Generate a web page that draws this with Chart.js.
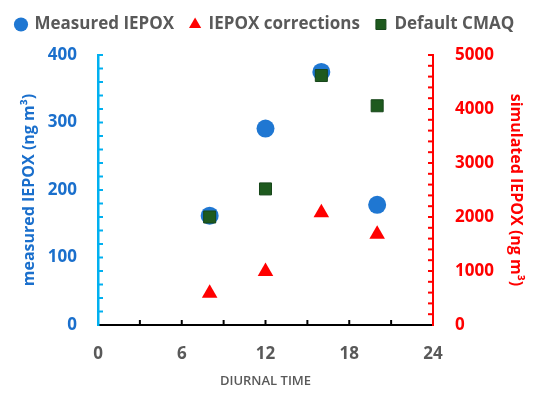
<!DOCTYPE html>
<html>
<head>
<meta charset="utf-8">
<script src="https://cdn.jsdelivr.net/npm/chart.js@4"></script>
<style>
  html, body { margin: 0; padding: 0; background: #fff; }
  #wrap { width: 550px; height: 402px; }
</style>
</head>
<body>
<div id="wrap"><canvas id="chart"></canvas></div>
<script>
// diurnal hours of the samples
const hours = [8, 12, 16, 20];
// left axis, ng m-3
const measuredIepox = [162, 291, 375, 178];
// right axis, ng m-3
const iepoxCorrections = [590, 990, 2080, 1680];
const defaultCmaq = [2000, 2520, 4620, 4060];

const xTicks = [0, 6, 12, 18, 24];
const leftTicks = [0, 100, 200, 300, 400];
const rightTicks = [0, 1000, 2000, 3000, 4000, 5000];

const GRAY = '#595959';
const FONT = "'Open Sans', sans-serif";

const toPoints = (vals) => vals.map((v, i) => ({ x: hours[i], y: v }));

// minor tick marks drawn inward from each axis line
const innerTicks = {
  id: 'innerTicks',
  afterDatasetsDraw(chart) {
    const { ctx, chartArea, scales } = chart;
    const len = 5;
    ctx.save();
    ctx.lineWidth = 2;

    ctx.strokeStyle = '#000';
    for (let v = 3; v < 24; v += 3) {
      const px = scales.x.getPixelForValue(v);
      ctx.beginPath();
      ctx.moveTo(px, chartArea.bottom);
      ctx.lineTo(px, chartArea.bottom - len);
      ctx.stroke();
    }

    ctx.strokeStyle = '#00B0F0';
    for (let v = 20; v <= 400; v += 20) {
      const py = scales.y.getPixelForValue(v);
      ctx.beginPath();
      ctx.moveTo(chartArea.left, py);
      ctx.lineTo(chartArea.left + len, py);
      ctx.stroke();
    }

    ctx.strokeStyle = '#FF0000';
    for (let v = 200; v <= 5000; v += 200) {
      const py = scales.y2.getPixelForValue(v);
      ctx.beginPath();
      ctx.moveTo(chartArea.right, py);
      ctx.lineTo(chartArea.right - len, py);
      ctx.stroke();
    }
    ctx.restore();
  }
};

// fixed legend band height
const legendBand = {
  id: 'legendBand',
  beforeInit(chart) {
    const fit = chart.legend.fit;
    chart.legend.fit = function () {
      fit.call(this);
      this.height = 55;
    };
  }
};

new Chart(document.getElementById('chart'), {
  type: 'scatter',
  data: {
    datasets: [
      {
        label: 'Measured IEPOX',
        data: toPoints(measuredIepox),
        yAxisID: 'y',
        order: 2,
        pointStyle: 'circle',
        pointRadius: 9,
        backgroundColor: '#1F77D2',
        borderColor: '#1F77D2',
        borderWidth: 0
      },
      {
        label: 'IEPOX corrections',
        data: toPoints(iepoxCorrections),
        yAxisID: 'y2',
        order: 1,
        pointStyle: 'triangle',
        pointRadius: 9,
        backgroundColor: '#FF0000',
        borderColor: '#FF0000',
        borderWidth: 0
      },
      {
        label: 'Default CMAQ',
        data: toPoints(defaultCmaq),
        yAxisID: 'y2',
        order: 0,
        pointStyle: 'rect',
        pointRadius: 8.5,
        backgroundColor: '#1E5A1E',
        borderColor: '#17461A',
        borderWidth: 1
      }
    ]
  },
  options: {
    responsive: true,
    maintainAspectRatio: false,
    animation: false,
    layout: { padding: 0 },
    plugins: {
      tooltip: { enabled: false },
      legend: {
        position: 'top',
        align: 'start',
        labels: {
          usePointStyle: true,
          boxWidth: 10,
          boxHeight: 10,
          padding: 16,
          color: GRAY,
          sort: (a, b) => a.datasetIndex - b.datasetIndex,
          font: { family: FONT, size: 17, weight: 'bold' }
        }
      }
    },
    scales: {
      x: {
        type: 'linear',
        position: 'bottom',
        min: 0,
        max: 24,
        afterFit(s) { s.height = 77; },
        afterBuildTicks(s) { s.ticks = xTicks.map(v => ({ value: v })); },
        grid: { drawOnChartArea: false, drawTicks: false },
        border: { color: '#000', width: 2 },
        ticks: {
          padding: 19,
          color: GRAY,
          font: { family: FONT, size: 17, weight: 'bold' }
        },
        title: {
          display: true,
          text: 'DIURNAL TIME',
          color: GRAY,
          padding: { top: 0, bottom: 13 },
          font: { family: FONT, size: 13, weight: '600' }
        }
      },
      y: {
        type: 'linear',
        position: 'left',
        min: 0,
        max: 400,
        afterFit(s) { s.width = 98; },
        afterBuildTicks(s) { s.ticks = leftTicks.map(v => ({ value: v })); },
        grid: { drawOnChartArea: false, drawTicks: false },
        border: { color: '#00B0F0', width: 2.5 },
        ticks: {
          padding: 21,
          color: '#1A6FCC',
          callback: (v) => String(v),
          font: { family: FONT, size: 17, weight: 'bold' }
        },
        title: {
          display: true,
          text: 'measured IEPOX (ng m³)',
          color: '#1A6FCC',
          padding: { top: 20, bottom: 0 },
          font: { family: FONT, size: 16, weight: 'bold' }
        }
      },
      y2: {
        type: 'linear',
        position: 'right',
        min: 0,
        max: 5000,
        afterFit(s) { s.width = 117; },
        afterBuildTicks(s) { s.ticks = rightTicks.map(v => ({ value: v })); },
        grid: { drawOnChartArea: false, drawTicks: false },
        border: { color: '#FF0000', width: 2 },
        ticks: {
          padding: 22,
          color: '#FF0000',
          callback: (v) => String(v),
          font: { family: FONT, size: 17, weight: 'bold' }
        },
        title: {
          display: true,
          text: 'simulated IEPOX (ng m³)',
          color: '#FF0000',
          padding: { top: 25, bottom: 0 },
          font: { family: FONT, size: 16, weight: 'bold' }
        }
      }
    }
  },
  plugins: [innerTicks, legendBand]
});
</script>
</body>
</html>
